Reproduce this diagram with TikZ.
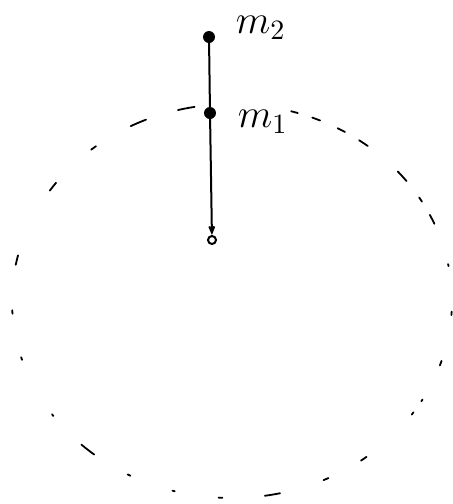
\documentclass[tikz,border=0pt]{standalone}
\usetikzlibrary{arrows.meta}
\begin{document}
\begin{tikzpicture}[x=1pt,y=-1pt,
  mass/.style={circle,fill=black,inner sep=0pt,minimum size=12pt},
  centre/.style={circle,draw=black,line width=2pt,inner sep=0pt,minimum size=8pt},
  lbl/.style={font=\Large,scale=2.8,anchor=west,inner sep=0.5pt},
  orbitdash/.style={line width=1.8pt,line cap=round}]
\useasboundingbox (0,0) rectangle (453,504);
\foreach \a/\w in {258/2.2,244.8/2.2,231/0.8,215.5/1.4,192/1.4,176.8/0.5,163/0.4,144.6/0.3,
  131/2.2,117.9/0.4,105.4/0.3,93/0.5,79.4/2,64.7/0.7,53.2/0.9,34.8/0.4,30.3/0.3,18.4/0.7,
  3.6/0.5,349.5/0.3,335.5/1.4,329/0.7,320.7/1.8,306.7/1.4,299.8/1.1,292.5/1.1,286.5/0.9}
  \draw[orbitdash] ([shift={(\a-\w:220 and 197)}]232,301)
    arc[start angle=\a-\w, end angle=\a+\w, x radius=220, y radius=197];
\node[mass] (m2) at (209,37) {};
\node[mass] (m1) at (210,113) {};
\node[centre] (c) at (212,240) {};
\node[lbl] (l2) at (234,28) {$m_2$};
\node[lbl] (l1) at (236,122) {$m_1$};
\draw[line width=2pt] (m2) -- (m1);
\draw[line width=2pt,-{Straight Barb[length=6pt,width=5pt]}] (m1) -- (c);
\end{tikzpicture}
\end{document}
